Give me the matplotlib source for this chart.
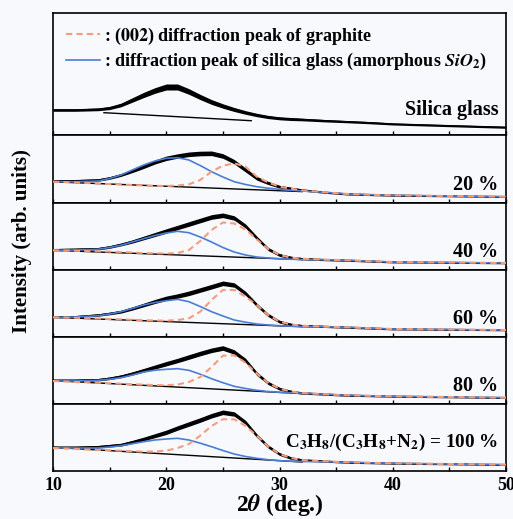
import numpy as np
import matplotlib
matplotlib.use('Agg')
import matplotlib.pyplot as plt

plt.rcParams['font.family'] = ['Liberation Serif', 'DejaVu Serif']
plt.rcParams['font.weight'] = 'bold'
plt.rcParams['mathtext.fontset'] = 'stix'

two_theta = [10, 12, 14, 15, 16, 17, 18, 19, 20, 21, 22, 23, 24, 25, 26, 27, 28,
             29, 30, 31, 32, 34, 36, 38, 40, 45, 50]

# measured intensity (arb. units), one list per sample
silica_meas = [25, 25, 25.7, 27, 30, 35, 40, 44.5, 48, 48, 43.5, 38, 33, 29, 25.5, 22.5, 20,
               18, 16.7, 16, 15.5, 14.3, 13.3, 12.3, 11, 9.3, 7.7]
p20_meas = [22, 22.3, 23, 25, 28, 32, 36.3, 41, 44.7, 47, 48.7, 49.5, 49.7, 47, 41.3, 33, 24.7,
            20, 16.3, 14.5, 13, 10.7, 9, 8.3, 7.7, 7, 6.3]
p40_meas = [20.3, 20.7, 21.3, 23, 25.5, 28.5, 32, 35.5, 39, 42.5, 46, 49.5, 53, 54.7, 52, 44, 32,
            21, 15, 12.5, 11.3, 10.3, 9.7, 8.8, 8, 7.5, 7]
p60_meas = [20.3, 20.3, 22, 23.5, 25.3, 28.5, 32, 35.5, 38.7, 41, 43.7, 47, 50.3, 53.7, 52, 43.7, 32,
            22, 15.3, 12.5, 11.3, 10.5, 9.7, 8.8, 8, 7.5, 7]
p80_meas = [23.7, 23.7, 24.3, 25.7, 27.7, 30.5, 33.7, 37, 40.3, 43.5, 47, 50.5, 53.7, 56, 52, 43.7, 30.3,
            21, 15.3, 12.5, 11, 9.8, 8.7, 8.2, 7.7, 7, 6.3]
p100_meas = [23.7, 23.7, 24.3, 25.3, 26.3, 29, 32, 35.3, 38.7, 43, 47, 51, 55.3, 58.7, 57, 48.7, 35.3,
             24.5, 17, 13, 11, 9.8, 8.7, 8.2, 7.7, 7, 6.3]

# fitted silica glass peak (+ background)
p20_sio2 = [21.3, 21.3, 22, 24.5, 28, 33, 38, 42, 44.7, 45.3, 43, 37.5, 31.3, 26, 21.3, 18.5, 16.3,
            14.8, 13.7, 12.8, 12, 10.7, 9, 8.3, 7.7, 7, 6.3]
p40_sio2 = [19.7, 20, 20.7, 22.5, 24.7, 28, 31.3, 34.5, 37, 38.7, 37.3, 33, 28, 22.5, 18, 15, 13,
            12, 11.3, 10.8, 10.5, 10.3, 9.7, 8.8, 8, 7.5, 7]
p60_sio2 = [19.7, 20, 21.3, 23, 25.3, 28.5, 32, 34.5, 36.3, 37.7, 35.3, 30.5, 25.3, 21, 17, 14.8, 13,
            12, 11.3, 10.8, 10.5, 10.3, 9.7, 8.8, 8, 7.5, 7]
p80_sio2 = [23, 23, 23.7, 24.8, 26.3, 29, 32, 33.8, 34.7, 35.3, 33.7, 29.8, 25.3, 21.3, 17.7, 15.5, 13.7,
            12.5, 11.7, 11.2, 10.8, 9.8, 8.7, 8.2, 7.7, 7, 6.3]
p100_sio2 = [23, 23, 23, 24, 25.3, 27.3, 29.3, 31, 32, 32.7, 31, 27.8, 24.3, 20.5, 17, 14.5, 12.7,
             11.3, 10.3, 9.8, 9.5, 9.3, 8.7, 8.2, 7.7, 7, 6.3]

# fitted (002) graphite peak (+ background)
p20_c002 = [21.3, 20.5, 19.5, 19, 18.5, 18, 17.5, 17.2, 17, 17.5, 18.7, 23, 31.3, 37.3, 39.7, 36.3, 26.3,
            20.5, 16.3, 14.3, 12.7, 10.7, 9, 8.3, 7.7, 7, 6.3]
p40_c002 = [19.7, 19.2, 18.7, 18.4, 18, 17.5, 17, 16.7, 16.5, 17, 20, 29, 40, 47.5, 46.5, 40.5, 30.5,
            21, 15, 12.3, 11.3, 10.3, 9.7, 8.8, 8, 7.5, 7]
p60_c002 = [19.7, 19.2, 18.5, 18, 17.7, 17.2, 16.8, 16.5, 16.3, 17, 18.7, 25.3, 37, 47, 47, 40.3, 32,
            22, 15.3, 12.5, 11.3, 10.3, 9.7, 8.8, 8, 7.5, 7]
p80_c002 = [23, 22, 21.3, 20.8, 20.3, 19.8, 19.3, 19, 18.7, 19.5, 22, 27, 37, 48.3, 48.7, 41.3, 30.3,
            21, 15.3, 12.5, 11, 9.8, 8.7, 8.2, 7.7, 7, 6.3]
p100_c002 = [23, 22, 21, 20.7, 20.3, 19.8, 19.3, 19.5, 20.3, 23, 27, 35.3, 45, 51.7, 51.7, 45, 35.3,
             24.5, 17, 13, 11, 9.8, 8.7, 8.2, 7.7, 7, 6.3]

# noise half width of the measured trace
silica_noise = [1.3, 1.3, 1.4, 1.6, 1.8, 2.2, 2.6, 2.8, 3, 3, 2.8, 2.6, 2.4, 2.2, 2, 1.8, 1.7,
                1.6, 1.5, 1.5, 1.3, 1.2, 1.1, 1.1, 1, 1, 1]
mix_noise = [1.1, 1.1, 1.2, 1.3, 1.4, 1.6, 1.8, 2, 2.2, 2.2, 2.3, 2.3, 2.3, 2.3, 2.2, 2, 1.8,
             1.6, 1.4, 1.3, 1.1, 1, 1, 0.9, 0.9, 0.8, 0.8]

# linear background (start, end)
bg_x = [[14.5, 27.5], [10, 32], [10, 32], [10, 32], [10, 32], [10, 32]]
bg_y = [[22.3, 14.3], [21.2, 11.4], [19.7, 10.4], [19.7, 10.3], [23.4, 10.4], [23.7, 9.0]]

labels = ['Silica glass', '20 %', '40 %', '60 %', '80 %',
          r'C$_\mathbf{3}$H$_\mathbf{8}$/(C$_\mathbf{3}$H$_\mathbf{8}$+N$_\mathbf{2}$) = 100 %']
meas = [silica_meas, p20_meas, p40_meas, p60_meas, p80_meas, p100_meas]
sio2 = [None, p20_sio2, p40_sio2, p60_sio2, p80_sio2, p100_sio2]
c002 = [None, p20_c002, p40_c002, p60_c002, p80_c002, p100_c002]
heights = [122, 68, 67, 67, 67, 67]

bg = '#f8f9fd'
orange = '#f59c7c'
blue = '#4a7dd8'

fig, axes = plt.subplots(6, 1, figsize=(5.13, 5.19), dpi=100, sharex=True,
                         gridspec_kw={'height_ratios': heights, 'hspace': 0})
fig.patch.set_facecolor(bg)
fig.subplots_adjust(left=53/513, right=506/513, top=1-13/519, bottom=1-471/519)

x = np.array(two_theta)
for i, ax in enumerate(axes):
    ax.set_facecolor(bg)
    y = np.array(meas[i])
    noise = np.array(silica_noise if i == 0 else mix_noise)
    ax.fill_between(x, y - noise, y + noise, color='black', lw=0, zorder=2)
    ax.plot(x, y, color='black', lw=1.0, zorder=2)
    ax.plot(bg_x[i], bg_y[i], color='black', lw=1.0, zorder=3)
    if sio2[i] is not None:
        l_sio2, = ax.plot(x, sio2[i], color=blue, lw=1.2, zorder=4)
        l_c002, = ax.plot(x, c002[i], color=orange, lw=1.5, ls=(0, (3, 2)), zorder=5)
    ax.set_ylim(0, heights[i])
    ax.set_xlim(10, 50)
    ax.set_yticks([])
    ax.set_xticks([10, 20, 30, 40, 50])
    ax.set_xticks([15, 25, 35, 45], minor=True)
    ax.tick_params(axis='x', which='both', direction='in', length=3, width=1, top=False)
    for s in ax.spines.values():
        s.set_linewidth(1.2)
    ypos = 0.205 if i == 0 else (0.43 if i == 5 else 0.27)
    ax.text(0.983, ypos, labels[i], transform=ax.transAxes, ha='right', va='center',
            fontsize=13.8 if i == 5 else 14.5, fontweight='bold')

axes[-1].tick_params(axis='x', labelsize=13, pad=4)
axes[-1].set_xlabel(r'2$\mathit{\theta}$ (deg.)', fontsize=17, fontweight='bold', labelpad=-1)

axes[0].legend([l_c002, l_sio2],
               [r': ($\mathit{002}$) diffraction peak of graphite',
                r': diffraction peak of silica glass (amorphous $\mathit{SiO}_\mathbf{2}$)'],
               loc='upper left', frameon=False, fontsize=13, handlelength=1.9,
               handletextpad=0.2, borderaxespad=0.3, borderpad=0.4, labelspacing=0.25)

fig.text(0.043, 0.535, 'Intensity (arb. units)', rotation=90, ha='center', va='center',
         fontsize=15, fontweight='bold')

plt.savefig('out.png', dpi=100, facecolor=bg)
